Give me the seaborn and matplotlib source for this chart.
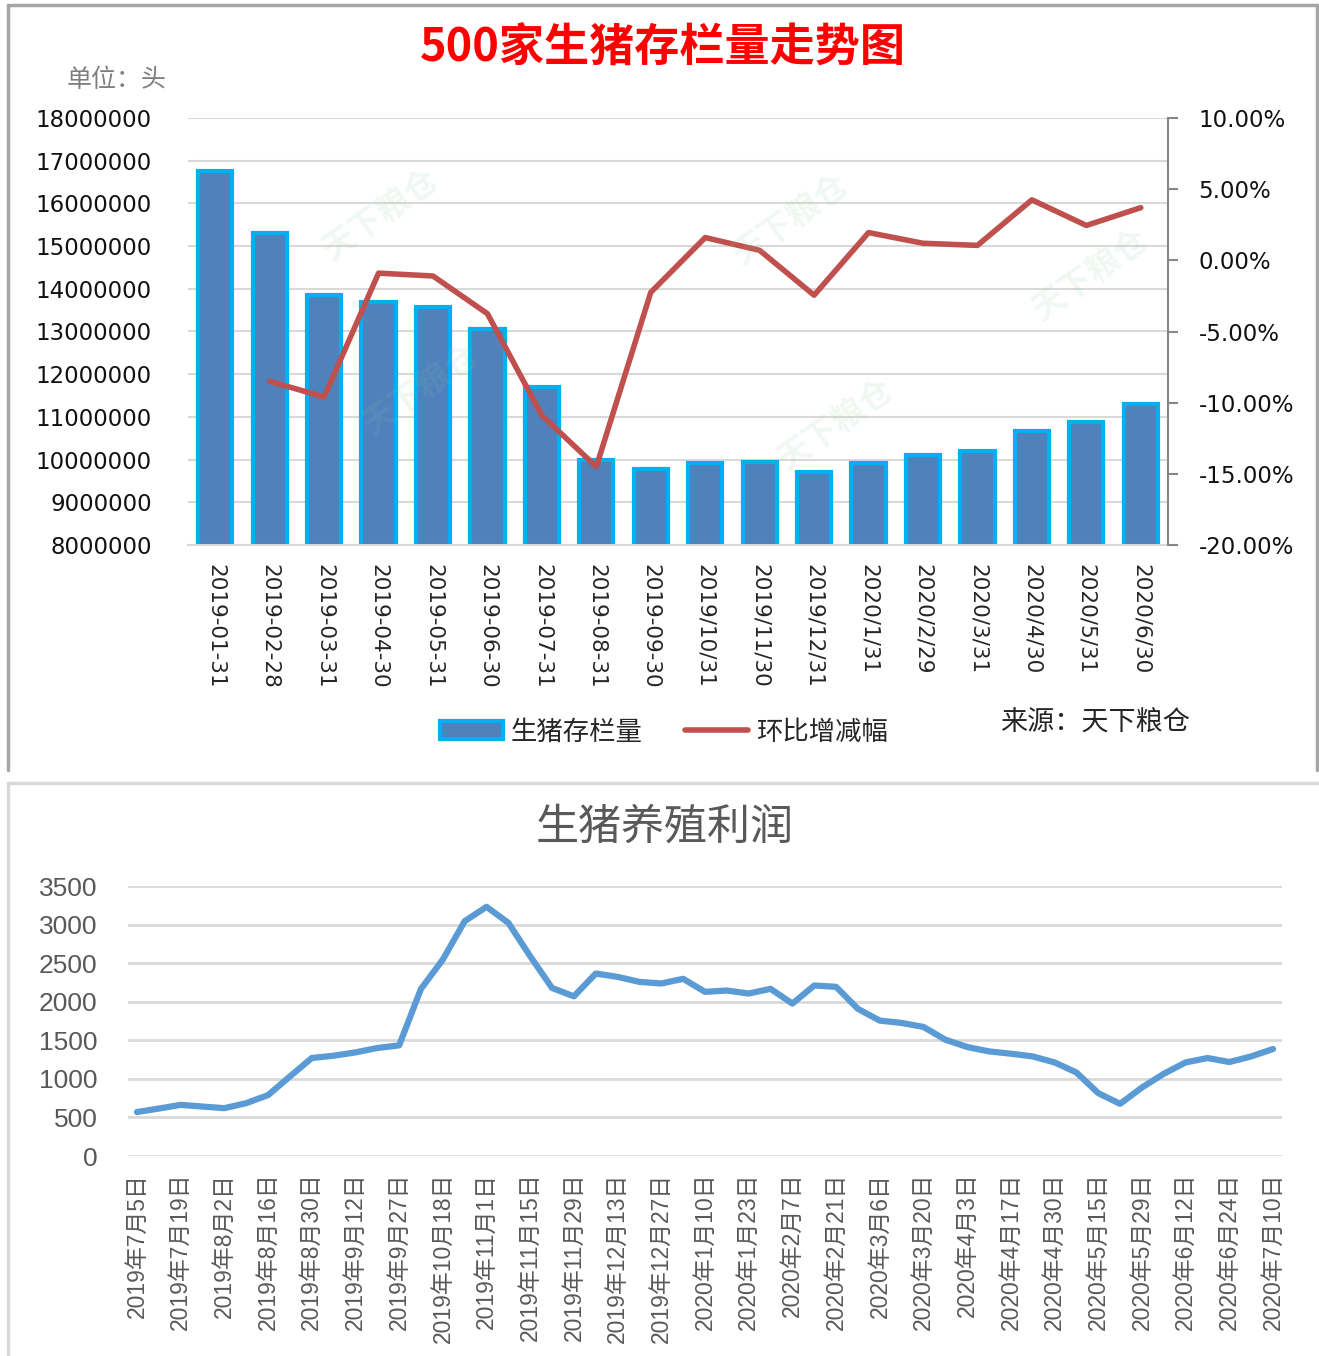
import numpy as np
import pandas as pd
import matplotlib
matplotlib.use('Agg')
import matplotlib.pyplot as plt
import seaborn as sns
from matplotlib.patches import Patch
from matplotlib.lines import Line2D
from matplotlib.ticker import FuncFormatter

# ---- data: 500 farms hog inventory (head) and month-on-month change (%)
stock_dates = ['2019-01-31', '2019-02-28', '2019-03-31', '2019-04-30', '2019-05-31',
               '2019-06-30', '2019-07-31', '2019-08-31', '2019-09-30', '2019/10/31',
               '2019/11/30', '2019/12/31', '2020/1/31', '2020/2/29', '2020/3/31',
               '2020/4/30', '2020/5/31', '2020/6/30']
stock_heads = [16750000, 15300000, 13850000, 13700000, 13570000, 13050000, 11700000,
               10000000, 9770000, 9920000, 9950000, 9720000, 9920000, 10110000,
               10190000, 10660000, 10890000, 11310000]
# change starts from 2019-02-28
mom_change_pct = [-8.5, -9.6, -0.9, -1.1, -3.75, -10.9, -14.5, -2.25, 1.6, 0.7,
                  -2.45, 1.95, 1.2, 1.05, 4.25, 2.45, 3.7]

# ---- data: hog farming profit (yuan/head), weekly, every other week labelled
profit_tick_labels = ['2019年7月5日', '2019年7月19日', '2019年8月2日', '2019年8月16日',
                      '2019年8月30日', '2019年9月12日', '2019年9月27日', '2019年10月18日',
                      '2019年11月1日', '2019年11月15日', '2019年11月29日', '2019年12月13日',
                      '2019年12月27日', '2020年1月10日', '2020年1月23日', '2020年2月7日',
                      '2020年2月21日', '2020年3月6日', '2020年3月20日', '2020年4月3日',
                      '2020年4月17日', '2020年4月30日', '2020年5月15日', '2020年5月29日',
                      '2020年6月12日', '2020年6月24日', '2020年7月10日']
profit_values = [570, 615, 663, 641, 620, 685, 789, 1031, 1270, 1300,
                 1343, 1400, 1434, 2166, 2547, 3044, 3230, 3022, 2589, 2178,
                 2070, 2365, 2322, 2257, 2236, 2297, 2128, 2145, 2106, 2167,
                 1976, 2210, 2193, 1907, 1755, 1725, 1673, 1508, 1413, 1356,
                 1326, 1291, 1213, 1083, 815, 676, 888, 1066, 1213, 1270,
                 1218, 1291, 1387]

sns.set_style('white')
plt.rcParams['font.family'] = ['DejaVu Sans', 'Noto Sans CJK SC']
CJK = ['Noto Sans CJK SC', 'DejaVu Sans']
ARIAL_CJK = ['Liberation Sans', 'Noto Sans CJK SC']

W, H = 1319, 1356
fig = plt.figure(figsize=(W / 100, H / 100), dpi=100)


def box(left, top, right, bottom):
    # pixel box -> figure fraction rect
    return [left / W, 1 - bottom / H, (right - left) / W, (bottom - top) / H]


def fpos(x, y):
    return x / W, 1 - y / H


# panel frames
grey = '#A6A6A6'
for xs, ys, c in [([8, 1317], [5, 5], grey), ([8, 8], [5, 770], grey),
                  ([1317, 1317], [5, 770], grey),
                  ([8, 1319], [783, 783], '#D9D9D9'), ([8, 8], [783, 1356], '#D9D9D9')]:
    fig.add_artist(Line2D([x / W for x in xs], [1 - y / H for y in ys],
                          transform=fig.transFigure, color=c, lw=2.5))

# ================= top chart =================
ax1 = fig.add_axes(box(188, 118, 1168, 545))
stock_df = pd.DataFrame({'date': stock_dates, 'heads': stock_heads})
sns.barplot(data=stock_df, x='date', y='heads', color='#4F81BD', edgecolor='#00B0F0',
            linewidth=3, width=0.63, saturation=1, ax=ax1)
ax1.set_ylim(8000000, 18000000)
ax1.set_yticks(range(8000000, 18000001, 1000000))
ax1.yaxis.set_major_formatter(FuncFormatter(lambda v, p: f'{int(round(v))}'))
ax1.set_xlim(-0.5, len(stock_dates) - 0.5)
ax1.yaxis.grid(True, color='#D9D9D9', lw=1.5)
ax1.set_axisbelow(True)
for s in ['left', 'top', 'right']:
    ax1.spines[s].set_visible(False)
ax1.spines['bottom'].set_color('#D9D9D9')
ax1.spines['bottom'].set_linewidth(1.5)
ax1.tick_params(axis='y', length=0, pad=26, labelsize=16.5, labelcolor='#111111')
ax1.set_xticks(range(len(stock_dates)))
ax1.set_xticklabels(stock_dates, rotation=-90, ha='center', va='top', fontsize=15.5)
ax1.tick_params(axis='x', length=0, pad=14)
ax1.set_xlabel('')
ax1.set_ylabel('')

ax2 = ax1.twinx()
change_df = pd.DataFrame({'pos': np.arange(1, len(mom_change_pct) + 1), 'change': mom_change_pct})
sns.lineplot(data=change_df, x='pos', y='change', color='#C0504D', lw=4, ax=ax2)
ax2.set_ylim(-20, 10)
ax2.set_yticks(range(-20, 11, 5))
ax2.yaxis.set_major_formatter(FuncFormatter(lambda v, p: f'{v:.2f}%'))
ax2.grid(False)
for s in ['left', 'top', 'bottom']:
    ax2.spines[s].set_visible(False)
ax2.spines['right'].set_color('#868686')
ax2.spines['right'].set_linewidth(1.5)
ax2.tick_params(axis='y', length=7, width=1.5, color='#868686', direction='out',
                pad=15, labelsize=16.5, labelcolor='#111111')
ax2.set_ylabel('')
ax2.set_xlabel('')

fig.text(*fpos(663, 49), '500家生猪存栏量走势图', color='#FF0000', fontsize=32.5,
         fontweight='bold', family=CJK, ha='center', va='center')
fig.text(*fpos(117, 80), '单位：头', color='#7F7F7F', fontsize=18, style='italic',
         family=CJK, ha='center', va='center')

# faint watermarks
for wx, wy in [(380, 215), (790, 220), (1090, 275), (420, 390), (835, 425)]:
    fig.text(*fpos(wx, wy), '天下粮仓', rotation=35, color='#8FCB9B', alpha=0.12,
             fontsize=24, fontweight='bold', family=CJK, ha='center', va='center')

handles = [Patch(facecolor='#4F81BD', edgecolor='#00B0F0', linewidth=3),
           Line2D([], [], color='#C0504D', lw=4)]
fig.legend(handles, ['生猪存栏量', '环比增减幅'], loc='center',
           bbox_to_anchor=fpos(664, 732), ncol=2, frameon=False,
           prop={'family': CJK, 'size': 19}, handlelength=2.4, handletextpad=0.3,
           columnspacing=1.6)
fig.text(*fpos(1095, 722), '来源：天下粮仓', fontsize=19.5, style='italic',
         family=CJK, ha='center', va='center')

# ================= bottom chart =================
ax3 = fig.add_axes(box(128, 886, 1282, 1156))
profit_df = pd.DataFrame({'week': np.arange(len(profit_values)), 'profit': profit_values})
sns.lineplot(data=profit_df, x='week', y='profit', color='#5B9BD5', lw=4.5, ax=ax3)
ax3.set_ylim(0, 3500)
ax3.set_yticks(range(0, 3501, 500))
ax3.set_xlim(-0.41, len(profit_values) - 1 + 0.41)
ax3.yaxis.grid(True, color='#D9D9D9', lw=2)
ax3.xaxis.grid(False)
ax3.set_axisbelow(True)
for s in ax3.spines.values():
    s.set_visible(False)
ax3.set_xticks(range(0, len(profit_values), 2))
ax3.set_xticklabels(profit_tick_labels, rotation=90, ha='center', va='top',
                    fontsize=16.5, family=ARIAL_CJK, color='#595959')
ax3.tick_params(axis='x', length=0, pad=12)
ax3.tick_params(axis='y', length=0, pad=22, labelsize=19, labelcolor='#595959')
for lab in ax3.get_yticklabels():
    lab.set_family(ARIAL_CJK)
ax3.set_xlabel('')
ax3.set_ylabel('')

fig.text(*fpos(665, 828), '生猪养殖利润', fontsize=31, color='#595959',
         family=CJK, ha='center', va='center')

fig.savefig('out.png', dpi=100)
